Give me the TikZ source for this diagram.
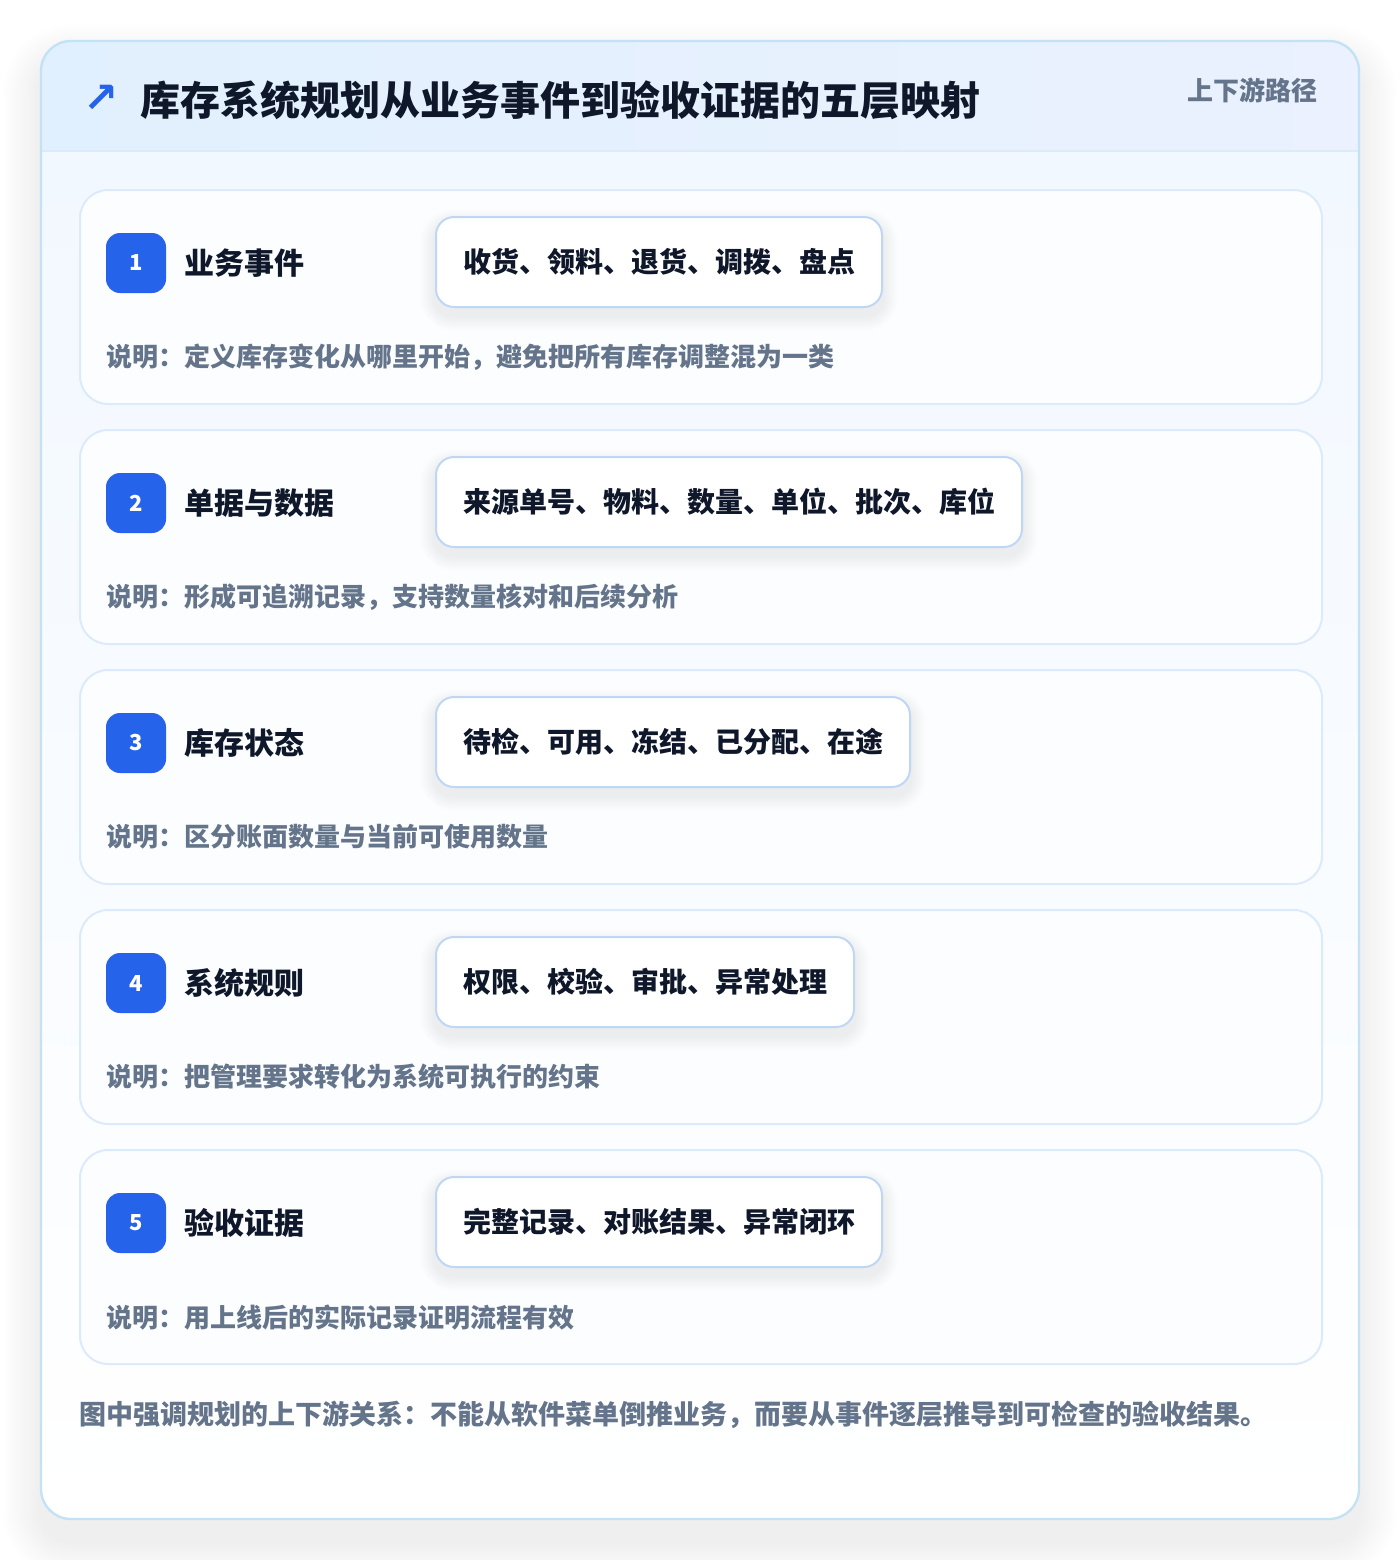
\documentclass[tikz,border=0pt]{standalone}
\usepackage{fontspec}
\setmainfont{Noto Sans CJK SC}
\newfontfamily\symfont{DejaVu Sans}
\definecolor{cardborder}{HTML}{C4E2F6}
\definecolor{hdrL}{HTML}{E1F0FE}
\definecolor{hdrR}{HTML}{EBF1FE}
\definecolor{bodyTop}{HTML}{F2F8FF}
\definecolor{rowfill}{HTML}{FBFDFF}
\definecolor{rowborder}{HTML}{DCEBFB}
\definecolor{itemborder}{HTML}{BFD7F5}
\definecolor{badgeblue}{HTML}{2563EB}
\definecolor{ink}{HTML}{0F172A}
\definecolor{muted}{HTML}{64748B}
\pgfdeclarelayer{bg}
\pgfdeclarelayer{rows}
\pgfdeclarelayer{shade}
\pgfsetlayers{bg,rows,shade,main}
\tikzset{
  rowbox/.style={draw=rowborder, line width=1pt, fill=rowfill, rounded corners=14pt, anchor=north west, minimum width=621pt, minimum height=107pt, inner sep=0pt},
  badgebox/.style={fill=badgeblue, rounded corners=7pt, minimum width=30pt, minimum height=30pt, inner sep=0pt, text=white, font=\bfseries\fontsize{11pt}{13pt}\selectfont},
  labeltext/.style={anchor=west, inner sep=0pt, text=ink, font=\bfseries\fontsize{15pt}{18pt}\selectfont},
  itembox/.style={anchor=west, draw=itemborder, line width=1pt, fill=white, rounded corners=9pt, minimum height=45pt, inner xsep=13.5pt, text=ink, font=\bfseries\fontsize{14pt}{17pt}\selectfont},
  desctext/.style={anchor=west, inner sep=0pt, text=muted, font=\bfseries\fontsize{13pt}{16pt}\selectfont},
  shadowstep/.style={fill=black, fill opacity=#1, draw=none},
}
\begin{document}
\begin{tikzpicture}[x=0.5pt,y=-0.5pt]
\useasboundingbox (0,0) rectangle (1400,1560);
\begin{pgfonlayer}{bg}
\fill[white] (0,0) rectangle (1400,1560);
\coordinate (cardSW) at (41,1519);
\coordinate (cardNE) at (1359,41);
% soft shadow of the card
\foreach \s in {1,...,16} {
  \pgfmathsetmacro\sp{\s*1.2}
  \pgfmathsetmacro\rr{15+\sp}
  \fill[shadowstep=0.0045, rounded corners=\rr pt]
    ([xshift=-\sp pt, yshift=-\sp pt-11pt]cardSW) rectangle ([xshift=\sp pt, yshift=\sp pt-11pt]cardNE);
}
% card
\begin{scope}
  \clip[rounded corners=15pt] (cardSW) rectangle (cardNE);
  \fill[top color=bodyTop, bottom color=white] (41,151) rectangle (1359,1519);
  \fill[left color=hdrL, right color=hdrR] (41,41) rectangle (1359,151);
  \draw[rowborder, line width=1pt] (41,151) -- (1359,151);
\end{scope}
\draw[cardborder, line width=1.2pt, rounded corners=15pt] (cardSW) rectangle (cardNE);
\end{pgfonlayer}
% header
\node[anchor=center, inner sep=0pt, text=badgeblue, font=\symfont\bfseries\fontsize{21pt}{24pt}\selectfont] (icon) at (101,99) {↗};
\node[anchor=west, inner sep=0pt, text=ink, font=\bfseries\fontsize{20pt}{24pt}\selectfont] (title) at (140,100) {库存系统规划从业务事件到验收证据的五层映射};
\node[anchor=east, inner sep=0pt, text=muted, font=\bfseries\fontsize{13pt}{16pt}\selectfont] (tag) at (1318,90) {上下游路径};
% rows
\foreach \i/\lab/\items/\desc in {
  1/{业务事件}/{收货、领料、退货、调拨、盘点}/{说明：定义库存变化从哪里开始，避免把所有库存调整混为一类},
  2/{单据与数据}/{来源单号、物料、数量、单位、批次、库位}/{说明：形成可追溯记录，支持数量核对和后续分析},
  3/{库存状态}/{待检、可用、冻结、已分配、在途}/{说明：区分账面数量与当前可使用数量},
  4/{系统规则}/{权限、校验、审批、异常处理}/{说明：把管理要求转化为系统可执行的约束},
  5/{验收证据}/{完整记录、对账结果、异常闭环}/{说明：用上线后的实际记录证明流程有效}} {
  \pgfmathsetmacro\top{189+(\i-1)*240}
  \begin{pgfonlayer}{rows}
    \node[rowbox] (row\i) at (79,\top) {};
  \end{pgfonlayer}
  \node[badgebox] (badge\i) at (136,\top+74) {\i};
  \node[labeltext] (label\i) at (184,\top+74) {\lab};
  \node[itembox] (item\i) at (435,\top+73) {\items};
  \node[desctext] (desc\i) at (106,\top+168) {\desc};
  \begin{pgfonlayer}{shade}
    \foreach \s in {1,...,8} {
      \pgfmathsetmacro\sp{\s*0.9}
      \pgfmathsetmacro\rr{9+\sp}
      \fill[shadowstep=0.006, rounded corners=\rr pt]
        ([xshift=-\sp pt, yshift=-\sp pt-4pt]item\i.south west) rectangle ([xshift=\sp pt, yshift=\sp pt-4pt]item\i.north east);
    }
  \end{pgfonlayer}
}
% footer
\node[anchor=west, inner sep=0pt, text=muted, font=\bfseries\fontsize{13.5pt}{16pt}\selectfont] (footer) at (79,1415) {图中强调规划的上下游关系：不能从软件菜单倒推业务，而要从事件逐层推导到可检查的验收结果。};
\end{tikzpicture}
\end{document}
